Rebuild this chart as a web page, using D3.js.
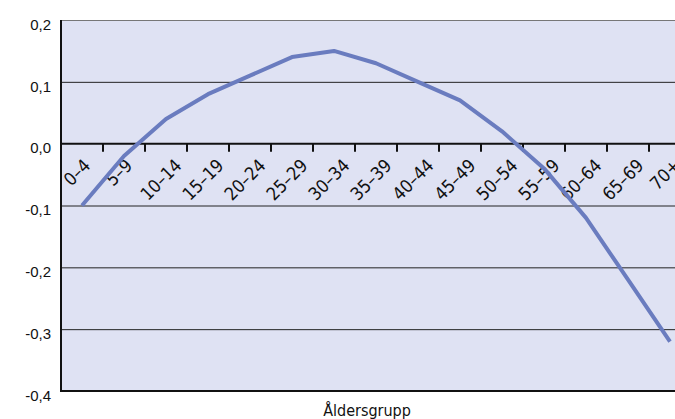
<!DOCTYPE html>
<html><head><meta charset="utf-8">
<script src="https://cdn.jsdelivr.net/npm/d3@7"></script>
<style>body{margin:0;background:#fff}svg{display:block}</style>
</head><body>
<svg id="c" width="675" height="419"></svg>
<script>
const categories = ["0–4","5–9","10–14","15–19","20–24","25–29","30–34","35–39","40–44","45–49","50–54","55–59","60–64","65–69","70+"];
const values = [-0.10,-0.02,0.04,0.08,0.11,0.14,0.15,0.13,0.10,0.07,0.02,-0.04,-0.12,-0.22,-0.32];
const yTicks = [0.2,0.1,0.0,-0.1,-0.2,-0.3,-0.4];
const xTitle = "Åldersgrupp";

(function(){
const svg = d3.select("#c");
const mLeft = 61, mTop = 20, mBottom = 391, band = 42;
const x = d3.scaleBand().domain(categories).range([mLeft, mLeft + band*categories.length]).padding(0);
const y = d3.scaleLinear().domain([-0.4, 0.2]).range([mBottom, mTop]);
const fmt = d => d3.format(".1f")(d).replace(".", ",").replace("−","-");
const condensed = "DejaVu Sans Condensed, Liberation Sans Narrow, sans-serif";

svg.append("defs").append("clipPath").attr("id", "plotclip").append("rect")
  .attr("x", mLeft).attr("y", mTop).attr("width", 675-mLeft).attr("height", mBottom-mTop);

svg.append("rect").attr("x", mLeft).attr("y", mTop).attr("width", 675-mLeft).attr("height", mBottom-mTop).attr("fill", "#dfe2f3");

// gridlines
svg.append("g").selectAll("line").data(yTicks.filter(t => t !== 0 && t !== -0.4)).join("line")
  .attr("x1", mLeft).attr("x2", 675).attr("y1", d => y(d)+0.5).attr("y2", d => y(d)+0.5)
  .attr("stroke", d => d === 0.2 ? "#777" : "#222").attr("stroke-width", 1);

// y axis labels
const ya = d3.axisLeft(y).tickValues(yTicks).tickFormat(fmt).tickSize(0).tickPadding(10);
const gy = svg.append("g").attr("transform", `translate(${mLeft},0)`).call(ya);
gy.select(".domain").remove();
gy.selectAll("text").attr("font-family", "Liberation Sans, Arial, sans-serif").attr("font-size", 15).attr("fill", "#111").attr("dy", "0.62em").attr("dx", 0);

// x axis at zero (labels clipped to the plot area, as in the reference)
const clipG = svg.append("g").attr("clip-path", "url(#plotclip)");
const xa = d3.axisBottom(x).tickSize(0).tickFormat(d => d);
const gx = clipG.append("g").attr("transform", `translate(0,${y(0)})`).call(xa);
gx.select(".domain").remove();
gx.selectAll(".tick line").remove();
gx.selectAll("text").attr("font-family", condensed)
  .attr("font-size", 18).attr("fill", "#111")
  .attr("text-anchor", "middle").attr("dy", "0.35em").attr("y", 0)
  .each(function(){
    const L = this.getComputedTextLength();
    const box = (L + 13) * 0.7071;
    d3.select(this).attr("transform", `translate(-5,${14 + box/2}) rotate(-45)`);
  });

// tick marks at category boundaries
svg.append("g").selectAll("line").data(categories.slice(1)).join("line")
  .attr("x1", d => x(d)).attr("x2", d => x(d)).attr("y1", y(0)).attr("y2", y(0)+8)
  .attr("stroke", "#111").attr("stroke-width", 2);
svg.append("line").attr("x1", mLeft).attr("x2", 675).attr("y1", y(0)).attr("y2", y(0)).attr("stroke", "#111").attr("stroke-width", 2);

// line
const line = d3.line().x((d,i) => x(categories[i]) + x.bandwidth()/2).y(d => y(d));
svg.append("path").datum(values).attr("d", line).attr("fill", "none").attr("stroke", "#6a7cbf").attr("stroke-width", 4).attr("stroke-linejoin", "round");

// y axis line and bottom line
svg.append("line").attr("x1", mLeft).attr("x2", mLeft).attr("y1", mTop).attr("y2", mBottom+1).attr("stroke", "#111").attr("stroke-width", 2);
svg.append("line").attr("x1", mLeft).attr("x2", 675).attr("y1", mBottom).attr("y2", mBottom).attr("stroke", "#111").attr("stroke-width", 2);

svg.append("text").attr("x", 367).attr("y", 416).attr("text-anchor", "middle")
  .attr("font-family", condensed).attr("font-size", 16).attr("fill", "#111").text(xTitle);
})();
</script>
</body></html>
